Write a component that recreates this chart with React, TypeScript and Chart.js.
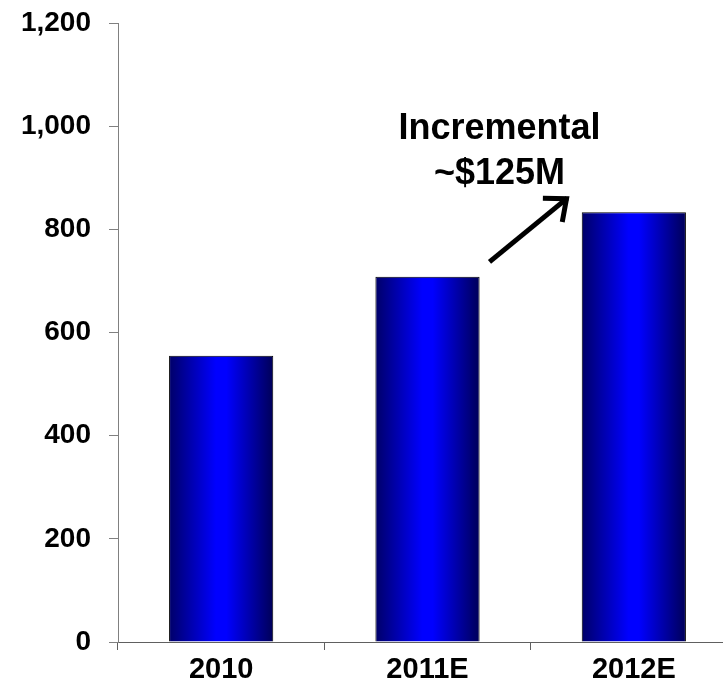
import React, { useEffect, useRef } from "react";
import { Chart, registerables } from "chart.js";

Chart.register(...registerables);

const categories = ["2010", "2011E", "2012E"];
const values = [555, 708, 833];
const yTicks = [0, 200, 400, 600, 800, 1000, 1200];
const annotationLines = ["Incremental", "~$125M"];

const FONT = "'Liberation Sans', Arial, Helvetica, sans-serif";
const BAR_PCT = 0.505;

function barGradient(c: any) {
  const chart = c.chart;
  const xs = chart.scales && chart.scales.x;
  if (!xs || c.dataIndex === undefined) return "#0000ff";
  const x = xs.getPixelForValue(c.dataIndex);
  const w = (xs.width / categories.length) * BAR_PCT;
  if (!isFinite(x) || !isFinite(w) || w <= 0) return "#0000ff";
  const g = chart.ctx.createLinearGradient(x - w / 2, 0, x + w / 2, 0);
  g.addColorStop(0, "#000068");
  g.addColorStop(0.45, "#0000ff");
  g.addColorStop(0.55, "#0000ff");
  g.addColorStop(1, "#000058");
  return g;
}

const annotationPlugin = {
  id: "incrementalNote",
  afterDraw(chart: any) {
    const ctx = chart.ctx;
    const xs = chart.scales.x;
    const ys = chart.scales.y;
    ctx.save();
    const cx = xs.getPixelForValue(1) + 72;
    ctx.fillStyle = "#000";
    ctx.font = `bold 36px ${FONT}`;
    ctx.textAlign = "center";
    ctx.textBaseline = "alphabetic";
    ctx.fillText(annotationLines[0], cx, ys.getPixelForValue(975));
    ctx.fillText(annotationLines[1], cx, ys.getPixelForValue(887));
    const tx = xs.getPixelForValue(1) + 62;
    const ty = ys.getPixelForValue(737);
    const hx = xs.getPixelForValue(2) - 65;
    const hy = ys.getPixelForValue(863);
    const ang = Math.atan2(hy - ty, hx - tx);
    ctx.strokeStyle = "#000";
    ctx.lineWidth = 5;
    ctx.lineCap = "butt";
    ctx.beginPath();
    ctx.moveTo(tx, ty);
    ctx.lineTo(hx - 2 * Math.cos(ang), hy - 2 * Math.sin(ang));
    ctx.stroke();
    const L = 26;
    const a = (36 * Math.PI) / 180;
    ctx.lineJoin = "miter";
    ctx.beginPath();
    ctx.moveTo(hx - L * Math.cos(ang - a), hy - L * Math.sin(ang - a));
    ctx.lineTo(hx - 3 * Math.cos(ang), hy - 3 * Math.sin(ang));
    ctx.lineTo(hx - L * Math.cos(ang + a), hy - L * Math.sin(ang + a));
    ctx.stroke();
    ctx.restore();
  },
};

export default function App() {
  const ref = useRef<HTMLCanvasElement>(null);
  useEffect(() => {
    if (!ref.current) return;
    const chart = new Chart(ref.current, {
      type: "bar",
      data: {
        labels: categories,
        datasets: [
          {
            data: values,
            backgroundColor: barGradient,
            borderColor: "#000",
            borderWidth: 1,
            barPercentage: BAR_PCT,
            categoryPercentage: 1,
          },
        ],
      },
      options: {
        responsive: false,
        animation: false,
        devicePixelRatio: 1,
        layout: { padding: { top: 23, right: 23, bottom: 0, left: 0 } },
        plugins: { legend: { display: false }, tooltip: { enabled: false } },
        scales: {
          x: {
            offset: true,
            grid: {
              display: true,
              drawOnChartArea: false,
              drawTicks: true,
              tickLength: 8,
              color: "#606060",
              offset: true,
            },
            border: { display: true, color: "#606060", width: 1 },
            ticks: {
              color: "#000",
              font: { family: FONT, size: 29, weight: "bold" },
              padding: 3,
              maxRotation: 0,
            },
            afterFit(scale: any) {
              scale.height = 40;
              scale.paddingLeft = 0;
              scale.paddingRight = 0;
            },
          },
          y: {
            min: 0,
            max: 1200,
            afterBuildTicks(scale: any) {
              scale.ticks = yTicks.map((v) => ({ value: v }));
            },
            grid: {
              display: true,
              drawOnChartArea: false,
              drawTicks: true,
              tickLength: 9,
              color: "#808080",
            },
            border: { display: true, color: "#808080", width: 1 },
            ticks: {
              color: "#000",
              font: { family: FONT, size: 28, weight: "bold" },
              padding: 18,
              callback: (v: any) => Number(v).toLocaleString("en-US"),
            },
            afterFit(scale: any) {
              scale.width = 118;
              scale.paddingTop = 0;
              scale.paddingBottom = 0;
            },
          },
        },
      },
      plugins: [annotationPlugin],
    });
    return () => chart.destroy();
  }, []);
  return (
    <div
      style={{
        position: "absolute",
        left: 0,
        top: 0,
        width: 723,
        height: 682,
        overflow: "hidden",
        background: "#fff",
      }}
    >
      <canvas ref={ref} width={760} height={682} style={{ display: "block" }} />
    </div>
  );
}
